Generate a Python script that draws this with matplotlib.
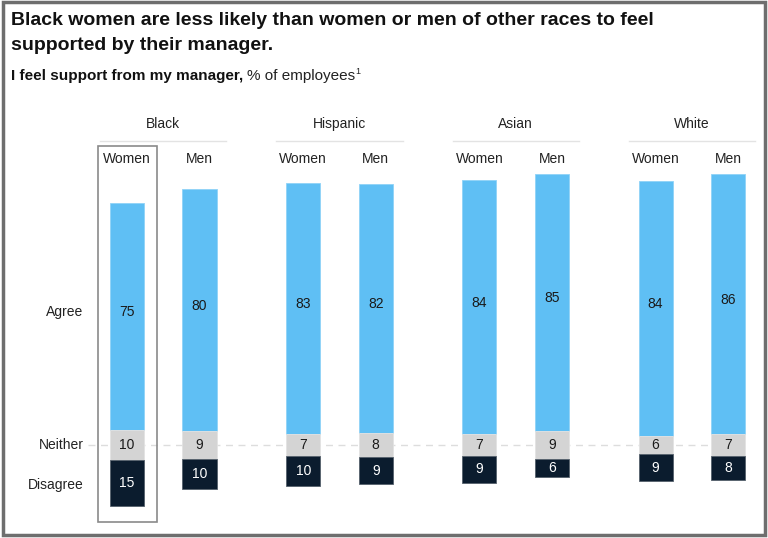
import matplotlib
matplotlib.use("Agg")
import matplotlib.pyplot as plt
from matplotlib.patches import Rectangle

plt.rcParams['font.family'] = ['Liberation Sans', 'DejaVu Sans']

races = ["Black", "Hispanic", "Asian", "White"]
genders = ["Women", "Men"]
agree = [75, 80, 83, 82, 84, 85, 84, 86]
neither = [10, 9, 7, 8, 7, 9, 6, 7]
disagree = [15, 10, 10, 9, 9, 6, 9, 8]

c_agree = "#5fbff4"
c_neither = "#d4d4d4"
c_disagree = "#0b1c2e"

fig = plt.figure(figsize=(7.68, 5.38), dpi=100)
ax = fig.add_axes([0, 0, 1, 1])
ax.set_xlim(-1.752, 8.841)
ax.set_ylim(-30.7, 146.9)
ax.axis("off")

gstep = 2.43
xs = [g * gstep + k for g in range(len(races)) for k in range(len(genders))]
w = 0.47

# baseline
ax.plot([-0.54, 8.5], [0, 0], color="#dddddd", lw=1, ls=(0, (5, 4)), zorder=1)

for i, x in enumerate(xs):
    n = neither[i]
    ax.bar(x, agree[i], w, bottom=n / 2, color=c_agree, edgecolor="#8fd3f7", lw=0.6, zorder=2)
    ax.bar(x, n, w, bottom=-n / 2, color=c_neither, edgecolor="#e2e2e2", lw=0.6, zorder=2)
    ax.bar(x, disagree[i], w, bottom=-n / 2 - disagree[i], color=c_disagree, edgecolor="#55606c", lw=0.6, zorder=2)
    ax.text(x, n / 2 + agree[i] / 2 + 1.5, str(agree[i]), ha="center", va="center", fontsize=10, color="#1a1a1a", zorder=3)
    ax.text(x, 0, str(n), ha="center", va="center", fontsize=10, color="#1a1a1a", zorder=3)
    ax.text(x, -n / 2 - disagree[i] / 2, str(disagree[i]), ha="center", va="center", fontsize=10, color="white", zorder=3)
    ax.text(x, 94.4, genders[i % 2], ha="center", va="center", fontsize=10, color="#222222")

for g, r in enumerate(races):
    cx = g * gstep + 0.5
    ax.text(cx, 106, r, ha="center", va="center", fontsize=10, color="#222222")
    ax.plot([cx - 0.87, cx + 0.87], [100.3, 100.3], color="#e3e3e3", lw=1)

# row labels
ax.text(-0.6, 43.9, "Agree", ha="right", va="center", fontsize=10, color="#222222")
ax.text(-0.6, 0, "Neither", ha="right", va="center", fontsize=10, color="#222222")
ax.text(-0.6, -13.2, "Disagree", ha="right", va="center", fontsize=10, color="#222222")

# highlight box around Black women
ax.add_patch(Rectangle((-0.40, -25.4), 0.81, 124.1, fill=False, edgecolor="#8a8a8a", lw=1.2, zorder=4))

# titles
fig.text(0.014, 0.978, "Black women are less likely than women or men of other races to feel\nsupported by their manager.",
         ha="left", va="top", fontsize=14, fontweight="bold", color="#111111", linespacing=1.6)
t1 = fig.text(0.014, 0.859, "I feel support from my manager,", ha="left", va="center",
              fontsize=11, fontweight="bold", color="#111111")
fig.canvas.draw()
bb = t1.get_window_extent()
x2 = bb.x1 / fig.bbox.width + 0.005
t2 = fig.text(x2, 0.859, "% of employees", ha="left", va="center", fontsize=11, color="#222222")
fig.canvas.draw()
bb2 = t2.get_window_extent()
fig.text(bb2.x1 / fig.bbox.width + 0.0005, 0.868, "1", ha="left", va="center", fontsize=6.5, color="#222222")

# outer frame
fig.patches.append(Rectangle((0.004, 0.006), 0.992, 0.99, transform=fig.transFigure, fill=False,
                             edgecolor="#6e6e6e", lw=2.5))

fig.savefig("out.png", dpi=100)
